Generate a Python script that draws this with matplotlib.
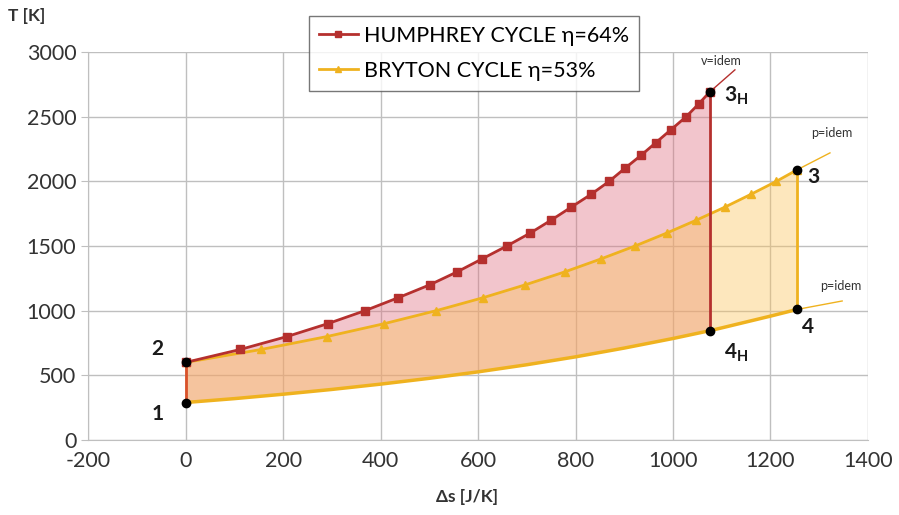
import matplotlib.pyplot as plt

plt.rcParams['font.family'] = ['Lato', 'DejaVu Sans']
plt.rcParams['axes.unicode_minus'] = False

# Humphrey cycle, 2 -> 3H (v = idem)
humphrey_s = [0, 112, 208, 292, 368, 436, 501, 557, 608, 659, 707, 750,
              791, 832, 869, 901, 934, 965, 996, 1027, 1053, 1075]
humphrey_T = [600, 700, 800, 900, 1000, 1100, 1200, 1300, 1400, 1500, 1600, 1700,
              1800, 1900, 2000, 2100, 2200, 2300, 2400, 2500, 2600, 2690]

# Brayton cycle, 2 -> 3 (p = idem)
brayton_s = [0, 155, 290, 408, 514, 610, 697, 778, 852, 922, 987, 1048,
             1106, 1160, 1212, 1255]
brayton_T = [600, 700, 800, 900, 1000, 1100, 1200, 1300, 1400, 1500, 1600, 1700,
             1800, 1900, 2000, 2090]

# heat rejection, 1 -> 4H -> 4 (p = idem)
low_s = [0, 100, 200, 300, 400, 500, 600, 700, 800, 900, 1000, 1075, 1100, 1200, 1255]
low_T = [290, 320, 354, 391, 432, 477, 527, 582, 643, 711, 785, 845, 867, 958, 1010]

# thin extensions of the state lines
ext_v_s = [1075, 1127]
ext_v_T = [2690, 2862]
ext_p3_s = [1255, 1322]
ext_p3_T = [2090, 2220]
ext_p4_s = [1255, 1347]
ext_p4_T = [1010, 1075]

red = "#b5302e"
gold = "#efb21f"

fig = plt.figure(figsize=(8.99, 5.15), dpi=100)
ax = fig.add_axes([0.098, 0.1456, 0.8675, 0.7534])

# fills
hs_low = [T for s, T in zip(low_s, low_T) if s <= 1075]
hs_s = [s for s in low_s if s <= 1075]
ax.fill(humphrey_s + hs_s[::-1], humphrey_T + hs_low[::-1],
        color="#e07080", alpha=0.4, lw=0, zorder=1)
ax.fill(brayton_s + low_s[::-1], brayton_T + low_T[::-1],
        color="#fcc45a", alpha=0.4, lw=0, zorder=1)

# extensions
ax.plot(ext_v_s, ext_v_T, color=red, lw=1, zorder=2)
ax.plot(ext_p3_s, ext_p3_T, color=gold, lw=1, zorder=2)
ax.plot(ext_p4_s, ext_p4_T, color=gold, lw=1, zorder=2)

# curves
ax.plot(humphrey_s, humphrey_T, color=red, lw=2, marker="s", markersize=6,
        label="HUMPHREY CYCLE η=64%", zorder=4)
ax.plot(brayton_s, brayton_T, color=gold, lw=2, marker="^", markersize=6,
        label="BRYTON CYCLE η=53%", zorder=3)
ax.plot(low_s, low_T, color=gold, lw=2.5, zorder=3)

# vertical legs
ax.plot([0, 0], [low_T[0], humphrey_T[0]], color="#d9522a", lw=2, zorder=3)
ax.plot([humphrey_s[-1], humphrey_s[-1]], [humphrey_T[-1], low_T[11]],
        color=red, lw=2, zorder=4)
ax.plot([brayton_s[-1], brayton_s[-1]], [brayton_T[-1], low_T[-1]],
        color=gold, lw=2, zorder=3)

# state points
pts_s = [0, 0, humphrey_s[-1], low_s[11], brayton_s[-1], low_s[-1]]
pts_T = [low_T[0], humphrey_T[0], humphrey_T[-1], low_T[11], brayton_T[-1], low_T[-1]]
ax.scatter(pts_s, pts_T, color="black", s=36, zorder=6)

lab = dict(fontsize=15, fontweight="bold", color="#1a1a1a")
ax.text(-45, 275, "1", ha="right", va="top", **lab)
ax.text(-45, 625, "2", ha="right", va="bottom", **lab)
ax.text(1105, 2660, "3$_\\mathregular{H}$", ha="left", va="center", **lab)
ax.text(1275, 2030, "3", ha="left", va="center", **lab)
ax.text(1105, 760, "4$_\\mathregular{H}$", ha="left", va="top", **lab)
ax.text(1265, 950, "4", ha="left", va="top", **lab)

small = dict(fontsize=9, color="#333333")
ax.text(1100, 2930, "v=idem", ha="center", va="center", **small)
ax.text(1325, 2375, "p=idem", ha="center", va="center", **small)
ax.text(1345, 1190, "p=idem", ha="center", va="center", **small)

ax.set_xlim(-200, 1400)
ax.set_ylim(0, 3000)
ax.set_xticks(range(-200, 1401, 200))
ax.set_yticks(range(0, 3001, 500))
ax.grid(color="#bfbfbf", lw=1)
ax.set_axisbelow(True)
for side in ["top", "right"]:
    ax.spines[side].set_visible(False)
for side in ["left", "bottom"]:
    ax.spines[side].set_color("#bfbfbf")
ax.tick_params(axis="y", length=5, color="#bfbfbf", labelsize=15.5, labelcolor="#333333")
ax.tick_params(axis="x", length=0, pad=8, labelsize=15.5, labelcolor="#333333")

fig.text(0.009, 0.968, "T [K]", fontsize=12.5, fontweight="bold", color="#333333",
         ha="left", va="center")
fig.text(0.52, 0.035, "Δs [J/K]", fontsize=12.5, fontweight="bold", color="#333333",
         ha="center", va="center")

leg = ax.legend(loc="upper left", bbox_to_anchor=(0.27, 1.12), fontsize=15.5,
                frameon=True, fancybox=False, edgecolor="#555555",
                handlelength=1.8, handletextpad=0.3, borderpad=0.45,
                labelspacing=0.7, markerscale=0.7)
leg.get_frame().set_linewidth(1)
leg.set_zorder(10)

fig.savefig("out.png", dpi=100)
